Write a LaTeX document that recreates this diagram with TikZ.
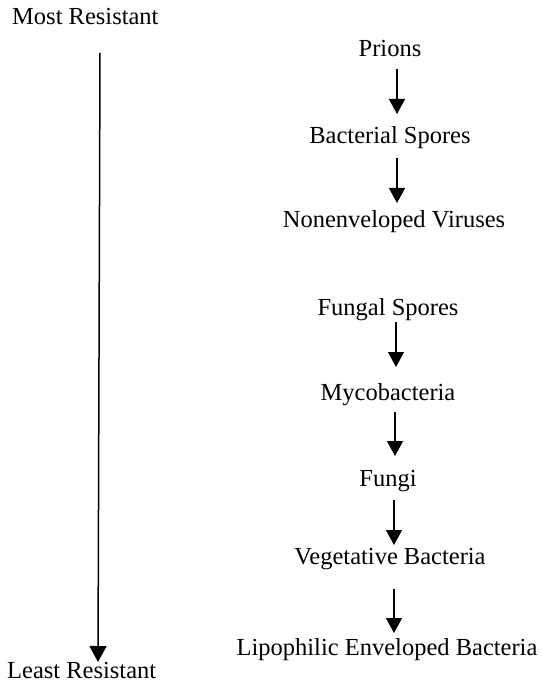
\documentclass[tikz,border=0pt]{standalone}
\usepackage{fontspec}
\setmainfont{Liberation Serif}
\usetikzlibrary{arrows.meta,calc}
\begin{document}
\begin{tikzpicture}[x=1pt,y=-1pt,
  lbl/.style={inner sep=0pt,anchor=base,font=\fontsize{24.5}{28}\selectfont},
  arr/.style={-{Triangle[length=15pt,width=16pt]},line width=1.3pt}]
\useasboundingbox (0,0) rectangle (542,684);
% side labels
\node[lbl,anchor=base west] (most) at (12,25) {Most Resistant};
\node[lbl,anchor=base west] (least) at (7,678) {Least Resistant};
\coordinate (mtop) at (100,53);
\coordinate (mbot) at (98,662);
\draw[arr,line width=1.5pt,-{Triangle[length=16pt,width=17pt]}] (mtop) -- (mbot);
% chain
\node[lbl] (prions) at (390,57) {Prions};
\node[lbl] (bact) at (390,144) {Bacterial Spores};
\node[lbl] (nonenv) at (394,228) {Nonenveloped Viruses};
\node[lbl] (fungsp) at (388,315) {Fungal Spores};
\node[lbl] (myco) at (388,400) {Mycobacteria};
\node[lbl] (fungi) at (388,486) {Fungi};
\node[lbl] (veg) at (390,564) {Vegetative Bacteria};
\node[lbl] (lipo) at (387,655) {Lipophilic Enveloped Bacteria};
\draw[arr] ($(prions.base)+(7,12)$) -- ($(bact.base)+(7,-30)$);
\draw[arr] ($(bact.base)+(7,14)$) -- ($(nonenv.base)+(3,-25)$);
\draw[arr] ($(fungsp.base)+(8,7)$) -- ($(myco.base)+(8,-33)$);
\draw[arr] ($(myco.base)+(7,12)$) -- ($(fungi.base)+(7,-30)$);
\draw[arr] ($(fungi.base)+(6,14)$) -- ($(veg.base)+(4,-19)$);
\draw[arr] ($(veg.base)+(4,25)$) -- ($(lipo.base)+(7,-22)$);
\end{tikzpicture}
\end{document}
